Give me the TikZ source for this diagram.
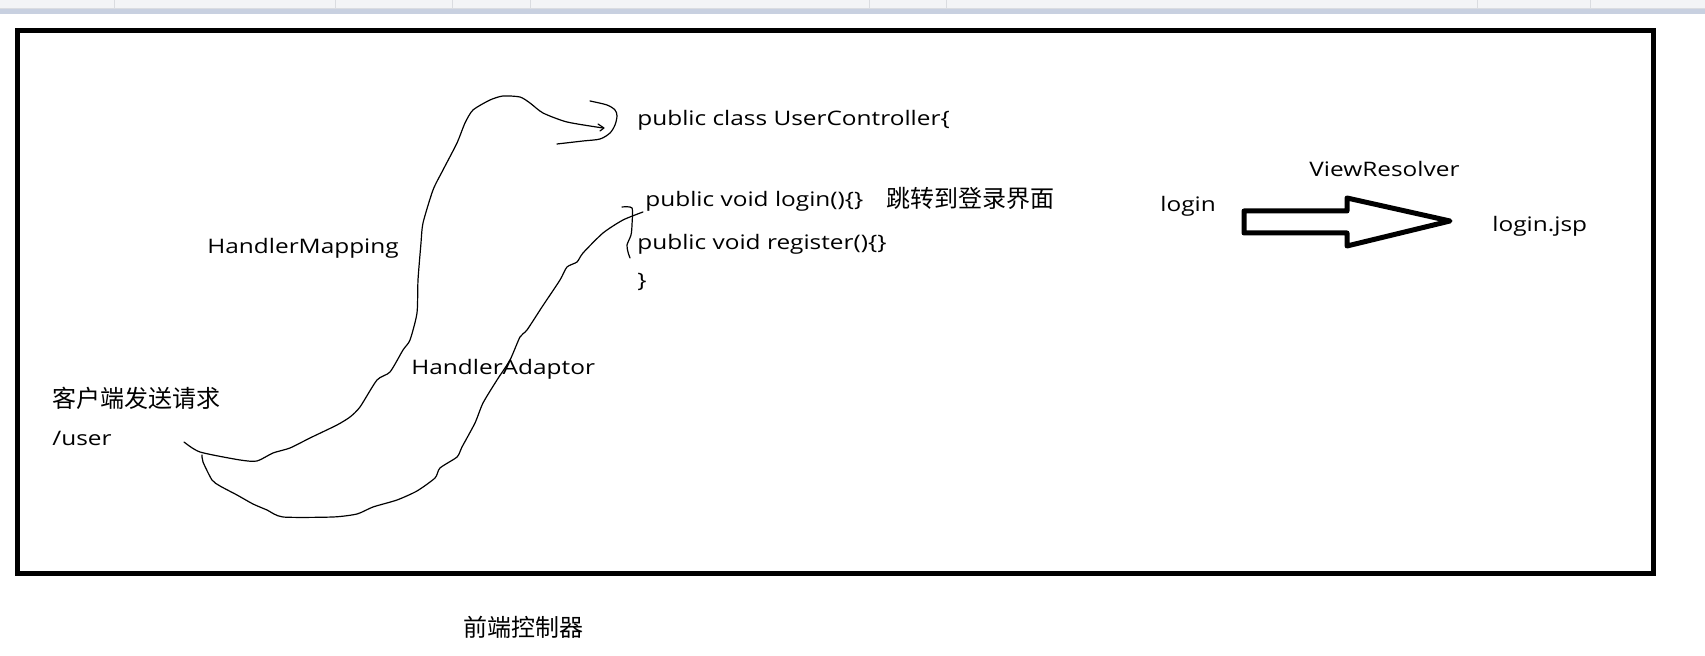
\documentclass[tikz,border=0pt]{standalone}
\usepackage{fontspec}
\setmainfont[FakeStretch=1.22]{Open Sans}
\newfontfamily\cjk{Noto Sans CJK SC}
\definecolor{barGray}{HTML}{F3F4F6}
\definecolor{barBlue}{HTML}{C8D0E0}
\definecolor{barLine}{HTML}{DADCE0}

\begin{document}
\begin{tikzpicture}[x=0.5pt,y=-0.5pt,
    code/.style={anchor=base west,inner sep=0pt,font=\fontsize{10}{12}\selectfont},
    zh/.style={anchor=west,inner sep=0pt,font=\cjk\fontsize{12}{14}\selectfont},
    sketch/.style={line width=0.6pt,line cap=round,line join=round}]
  \useasboundingbox (0,0) rectangle (1705,656);
  \fill[white] (0,0) rectangle (1705,656);
  % window strip at the top
  \fill[barGray] (0,0) rectangle (1705,8);
  \fill[barBlue] (0,9) rectangle (1705,14);
  \draw[barLine] (0,8.5) -- (1705,8.5);
  \foreach \x in {114,335,452,530,869,946,1477,1590}
    \draw[barLine] (\x,0) -- (\x,8);
  % frame
  \draw[line width=2.5pt] (17.5,30.5) rectangle (1653.5,573.5);

  % texts
  \node[code] (ctrl) at (637,126) {public class UserController\{};
  \node[code] (login) at (645,207) {public void login()\{\}};
  \node[zh] (jump) at (886,198) {跳转到登录界面};
  \node[code] (reg) at (637,250) {public void register()\{\}};
  \node[code] (close) at (637,288) {\}};
  \node[code] (hm) at (207,254) {HandlerMapping};
  \node[code] (ha) at (411,375) {HandlerAdaptor};
  \node[zh] (client) at (52,398) {客户端发送请求};
  \node[code] (url) at (52,446) {/user};
  \node[zh] (front) at (463,627) {前端控制器};
  \node[code] (view) at (1160,212) {login};
  \node[code] (vr) at (1309,177) {ViewResolver};
  \node[code] (jsp) at (1492,232) {login.jsp};

  % HandlerMapping stroke
  \draw[sketch] plot[smooth,tension=0.4] coordinates {(184,442) (200,452) (240,460)
    (257,461) (273,453) (290,448) (310,438) (337,425) (350,417) (360,407) (377,380)
    (390,372) (403,350) (410,340) (417,313) (418,280) (421,243) (423,223) (433,190)
    (443,170) (457,143) (465,123) (473,110) (490,100) (503,96) (520,97) (530,103)
    (543,113) (567,122) (603,128)};
  \draw[sketch] (598,124) -- (604,128) -- (600,131);
  \draw[sketch] plot[smooth,tension=0.5] coordinates {(590,101) (607,105) (615,110)
    (617,116) (615,125) (610,133) (600,139) (583,141) (557,144)};
  % HandlerAdaptor stroke
  \draw[sketch] plot[smooth,tension=0.4] coordinates {(202,455) (203,462) (212,480)
    (220,486) (237,495) (253,504) (267,510) (283,517) (333,517) (357,514) (373,507)
    (397,500) (417,491) (435,478) (440,468) (457,457) (462,447) (475,423) (483,403)
    (497,380) (510,360) (520,337) (527,330) (542,307) (560,280) (567,267) (577,262)
    (583,253) (603,233) (623,220) (643,212)};
  \draw[sketch] plot[smooth,tension=0.4] coordinates {(622,207) (632,208) (632,225)
    (631,235) (627,245) (628,252) (630,258)};

  % ViewResolver arrow
  \draw[line width=2.5pt,line join=round] (1244,211) -- (1347,211) -- (1347,198)
    -- (1450,221) -- (1347,246) -- (1347,233) -- (1244,233) -- cycle;
\end{tikzpicture}
\end{document}
